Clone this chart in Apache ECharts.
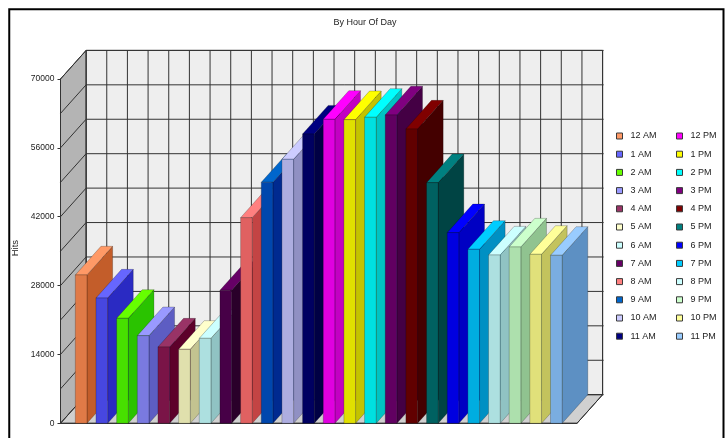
<!DOCTYPE html>
<html>
<head>
<meta charset="utf-8">
<style>html,body{margin:0;padding:0;background:#fff}#chart{width:725px;height:438px}</style>
<script src="https://cdn.jsdelivr.net/npm/echarts@6/dist/echarts.min.js"></script>
</head>
<body>
<div id="chart"></div>
<script>
// Hits per hour of day
const hours = ['12 AM','1 AM','2 AM','3 AM','4 AM','5 AM','6 AM','7 AM','8 AM','9 AM','10 AM','11 AM',
               '12 PM','1 PM','2 PM','3 PM','4 PM','5 PM','6 PM','7 PM','8 PM','9 PM','10 PM','11 PM'];
const hits = [30170,25480,21350,17820,15520,15050,17280,27040,41810,49000,53680,58820,
              61810,61740,62220,62690,59840,48920,38760,35380,34220,35850,34360,34160];
const topColors = ['#ff9966','#6666ff','#66ff00','#9999ff','#993366','#ffffcc','#ccffff','#660066',
                   '#ff8080','#0066cc','#ccccff','#000080','#ff00ff','#ffff00','#00ffff','#800080',
                   '#800000','#008080','#0000ff','#00ccff','#ccffff','#ccffcc','#ffff99','#99ccff'];
const wallLevels = [0,7000,14000,21000,28000,35000,42000,49000,56000,63000,70000];
const slots = [-1,0,1,2,3,4,5,6,7,8,9,10,11,12,13,14,15,16,17,18,19,20,21,22,23,24];

// Oblique projection of the box depth, in pixels
const DX = 25.6, DY = -28.6;
const BAR_SHARE = 0.565;
const FONT = '"Liberation Sans",Arial,sans-serif';
const INK = '#333333';

function darken(hex, by) {
  const n = parseInt(hex.slice(1), 16);
  const c = [n >> 16, (n >> 8) & 255, n & 255].map(v => Math.max(0, v - by));
  return 'rgb(' + c.join(',') + ')';
}

function face(points, fill, stroke, width) {
  return {type:'polygon', shape:{points}, style:{fill, stroke, lineWidth:width === undefined ? 1 : width}};
}
function seg(x1,y1,x2,y2,color) {
  return {type:'line', shape:{x1,y1,x2,y2}, style:{stroke:color||INK, lineWidth:1, fill:null}};
}

function renderWalls(params, api) {
  const [x0, y0] = api.coord([slots[0], wallLevels[0]]);
  const [x1, y1] = api.coord([slots[slots.length-1], wallLevels[wallLevels.length-1]]);
  const kids = [
    face([[x0+DX,y1+DY],[x1+DX,y1+DY],[x1+DX,y0+DY],[x0+DX,y0+DY]], '#eeeeee', INK),
    face([[x0,y1],[x0+DX,y1+DY],[x0+DX,y0+DY],[x0,y0]], '#b4b4b4', INK),
    face([[x0,y0],[x0+DX,y0+DY],[x1+DX,y0+DY],[x1,y0]], '#d0d0d0', INK)
  ];
  wallLevels.forEach(v => {
    const y = api.coord([slots[0], v])[1];
    kids.push(seg(x0, y, x0+DX, y+DY));
    kids.push(seg(x0+DX, y+DY, x1+DX+1, y+DY));
  });
  slots.forEach(s => {
    const x = api.coord([s, 0])[0];
    kids.push(seg(x+DX, y1+DY, x+DX, y0+DY));
  });
  kids.push(seg(x0, y0, x1, y0));
  kids.push(seg(x1, y0, x1+DX, y0+DY));
  return {type:'group', children:kids, silent:true};
}

function renderBar(color) {
  return function (params, api) {
    const [cx, yTop] = api.coord([api.value(0), api.value(1)]);
    const yBase = api.coord([api.value(0), 0])[1];
    const w = api.size([1, 0])[0] * BAR_SHARE;
    const l = cx - w / 2, r = cx + w / 2;
    const edge = 'rgba(0,0,0,0.28)';
    return {type:'group', silent:true, children:[
      face([[r,yTop],[r+DX,yTop+DY],[r+DX,yBase+DY],[r,yBase]], darken(color, 60), edge, 0.8),
      face([[l,yTop],[l+DX,yTop+DY],[r+DX,yTop+DY],[r,yTop]], color, edge, 0.8),
      face([[l,yTop],[r,yTop],[r,yBase],[l,yBase]], darken(color, 31), edge, 0.8)
    ]};
  };
}

const chart = echarts.init(document.getElementById('chart'), null, {renderer:'canvas'});

const legendBase = {
  orient:'vertical', itemWidth:6, itemHeight:6, itemGap:6.2, selectedMode:false, icon:'rect',
  itemStyle:{borderColor:'#3a3a3a', borderWidth:1},
  textStyle:{fontFamily:FONT, fontSize:9, color:'#222', lineHeight:12, padding:[0,0,0,3]},
  padding:0
};

chart.setOption({
  animation:false,
  backgroundColor:'#ffffff',
  title:{text:'By Hour Of Day', left:365, top:18, textAlign:'center', padding:0,
         textStyle:{fontFamily:FONT, fontSize:9, fontWeight:'normal', color:'#222'}},
  grid:{left:60.5, right:148, top:79, bottom:14.7, outerBoundsMode:'none'},
  xAxis:{type:'value', min:slots[0], max:slots[slots.length-1], interval:1,
         axisLabel:{show:false}, axisTick:{show:false}, splitLine:{show:false},
         axisLine:{show:true, onZero:false, lineStyle:{color:INK}}},
  yAxis:{type:'value', min:0, max:70000, interval:14000, name:'Hits', nameLocation:'middle', nameGap:38,
         nameTextStyle:{fontFamily:FONT, fontSize:9.5, color:'#222', padding:[0,0,0,6]},
         axisLabel:{fontFamily:FONT, fontSize:8.5, color:'#222', margin:6, formatter:v => String(v)},
         axisTick:{show:true, length:3, lineStyle:{color:INK}},
         axisLine:{show:true, onZero:false, lineStyle:{color:INK}}, splitLine:{show:false}},
  legend:[
    Object.assign({}, legendBase, {left:616, top:130, data:hours.slice(0,12)}),
    Object.assign({}, legendBase, {left:676, top:130, data:hours.slice(12)})
  ],
  graphic:[{type:'polyline', silent:true, z:100,
            shape:{points:[[9.25,440],[9.25,9.25],[723.5,9.25],[723.5,440]]},
            style:{fill:null, stroke:'#000', lineWidth:2}}],
  series:[
    {type:'custom', name:'walls', data:[[0,0]], renderItem:renderWalls, z:1, clip:false, silent:true,
     encode:{x:0, y:1}}
  ].concat(hours.map((h,i) => ({
    type:'custom', name:h, z:2, clip:false, silent:true,
    itemStyle:{color:topColors[i]},
    data:[[i, hits[i]]],
    encode:{x:0, y:1},
    renderItem:renderBar(topColors[i])
  })))
});
</script>
</body>
</html>
